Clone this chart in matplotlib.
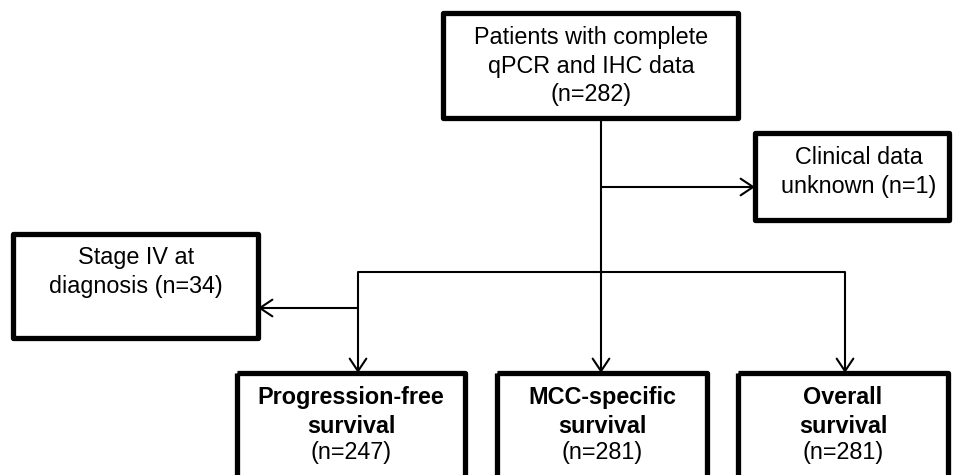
import matplotlib
matplotlib.use('Agg')
import matplotlib.pyplot as plt
from matplotlib.patches import Rectangle

plt.rcParams['font.family'] = ['Liberation Sans', 'DejaVu Sans']

# flowchart content
top_label = 'Patients with complete\nqPCR and IHC data'
top_n = 282
excluded_labels = ['Clinical data\nunknown', 'Stage IV at\ndiagnosis']
excluded_n = [1, 34]
outcome_labels = ['Progression-free\nsurvival', 'MCC-specific\nsurvival', 'Overall\nsurvival']
outcome_n = [247, 281, 281]

W, H = 954, 475
fig = plt.figure(figsize=(W / 100, H / 100), dpi=100)
ax = fig.add_axes([0, 0, 1, 1])
ax.set_xlim(0, W)
ax.set_ylim(H, 0)
ax.axis('off')

BOX_LW = 3.8
LINE_LW = 1.5
FS = 16.8
LS = 1.32


def box(x0, y0, x1, y1):
    ax.add_patch(Rectangle((x0, y0), x1 - x0, y1 - y0, fill=False,
                           edgecolor='black', lw=BOX_LW, joinstyle='round',
                           clip_on=True))


def line(xs, ys):
    ax.plot(xs, ys, color='black', lw=LINE_LW, solid_capstyle='butt')


def arrow(x0, y0, x1, y1):
    ax.annotate('', xy=(x1, y1), xytext=(x0, y0),
                arrowprops=dict(arrowstyle='->,head_length=0.45,head_width=0.3',
                                lw=LINE_LW, color='black', mutation_scale=20,
                                shrinkA=0, shrinkB=0))


# top box
box(443, 13, 738, 118)
ax.text(591, 66, f'{top_label}\n(n={top_n})', ha='center', va='center',
        fontsize=FS, linespacing=LS)

# excluded boxes
box(755, 133, 949, 220)
ax.text(859, 172, f'{excluded_labels[0]} (n={excluded_n[0]})', ha='center',
        va='center', fontsize=FS, linespacing=LS)
box(13, 234, 258, 338)
ax.text(136, 272, f'{excluded_labels[1]} (n={excluded_n[1]})', ha='center',
        va='center', fontsize=FS, linespacing=LS)

# outcome boxes (run off the bottom edge)
bx = [(237, 465), (497, 707), (738, 948)]
arrow_x = [358, 601, 845]
for (x0, x1), lab, n in zip(bx, outcome_labels, outcome_n):
    box(x0, 373, x1, 500)
    cx = (x0 + x1) / 2
    ax.text(cx, 412, lab, ha='center', va='center', fontsize=FS,
            fontweight='bold', linespacing=LS)
    ax.text(cx, 452, f'(n={n})', ha='center', va='center', fontsize=FS)

# connectors
line([601, 601], [118, 272])
arrow(601, 187, 755, 187)
line([arrow_x[0], arrow_x[-1]], [272, 272])
for x in arrow_x:
    arrow(x, 272, x, 373)
arrow(arrow_x[0], 308, 258, 308)

fig.savefig('out.png', dpi=100, facecolor='white')
